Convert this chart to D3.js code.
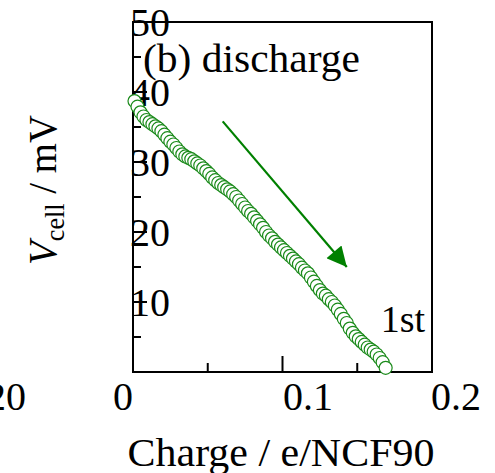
<!DOCTYPE html>
<html>
<head>
<meta charset="utf-8">
<script src="https://cdn.jsdelivr.net/npm/d3@7"></script>
<style>
  html, body { margin: 0; padding: 0; background: #fff; }
  svg { display: block; }
  text { font-family: "Liberation Serif", "DejaVu Serif", serif; fill: #000; }
</style>
</head>
<body>
<svg id="chart" width="495" height="473"></svg>
<script>
// ---- data ----
const charge = [
  0.001,0.003,0.005,0.007,0.009,0.011,0.013,0.015,0.017,0.019,
  0.021,0.023,0.025,0.027,0.029,0.031,0.033,0.035,0.037,0.039,
  0.041,0.043,0.045,0.047,0.049,0.051,0.053,0.055,0.057,0.059,
  0.061,0.063,0.065,0.067,0.069,0.071,0.073,0.075,0.077,0.079,
  0.081,0.083,0.085,0.087,0.089,0.091,0.093,0.095,0.097,0.099,
  0.101,0.103,0.105,0.107,0.109,0.111,0.113,0.115,0.117,0.119,
  0.121,0.123,0.125,0.127,0.129,0.131,0.133,0.135,0.137,0.139,
  0.141,0.143,0.145,0.147,0.149,0.151,0.153,0.155,0.157,0.159,
  0.161,0.163,0.165,0.167,0.169
];
const vcell = [
  38.7,37.9,37.1,36.5,36.0,35.7,35.4,35.1,34.8,34.4,
  33.9,33.4,32.9,32.5,32.0,31.5,31.1,30.8,30.6,30.4,
  30.1,29.8,29.5,29.1,28.7,28.3,27.8,27.4,27.0,26.7,
  26.4,26.1,25.8,25.4,25.0,24.5,24.0,23.5,23.0,22.6,
  22.1,21.6,21.1,20.6,20.0,19.5,19.1,18.6,18.2,17.8,
  17.4,17.0,16.6,16.2,15.8,15.4,14.9,14.5,14.1,13.5,
  12.9,12.3,11.7,11.2,10.9,10.4,10.0,9.5,8.9,8.3,
  7.6,7.0,6.2,5.6,5.1,4.7,4.3,3.9,3.5,3.2,
  2.9,2.5,2.0,1.4,0.6
];
const yMajorTicks = [10, 20, 30, 40, 50];
const yMinorTicks = [5, 15, 25, 35, 45];
const yTickLabels = ["10", "20", "30", "40", "50"];
const xMajorTicks = [0.1];
const xMinorTicks = [0.05, 0.15];
const xTickLabels = ["20", "0", "0.1", "0.2"];
const arrowFrom = [0.060, 35.8];
const arrowTo = [0.143, 15.0];

// ---- layout ----
const svg = d3.select("#chart");
const L = 133, R = 432, T = 22, B = 372;
const FS = 40;
const green = "#1a8a1a";

const x = d3.scaleLinear().domain([0, 0.2]).range([L, R]);
const y = d3.scaleLinear().domain([0, 50]).range([B, T]);

// frame
svg.append("rect")
  .attr("x", L).attr("y", T).attr("width", R - L).attr("height", B - T)
  .attr("fill", "none").attr("stroke", "#000").attr("stroke-width", 2);

// y ticks (inward)
svg.append("g").selectAll("line.ymaj").data(yMajorTicks).join("line")
  .attr("x1", L).attr("x2", L + 14)
  .attr("y1", d => y(d)).attr("y2", d => y(d))
  .attr("stroke", "#000").attr("stroke-width", 2);
svg.append("g").selectAll("line.ymin").data(yMinorTicks).join("line")
  .attr("x1", L).attr("x2", L + 8)
  .attr("y1", d => y(d)).attr("y2", d => y(d))
  .attr("stroke", "#000").attr("stroke-width", 2);
// x ticks (inward)
svg.append("g").selectAll("line.xmaj").data(xMajorTicks).join("line")
  .attr("x1", d => x(d)).attr("x2", d => x(d))
  .attr("y1", B).attr("y2", B - 16)
  .attr("stroke", "#000").attr("stroke-width", 2);
svg.append("g").selectAll("line.xmin").data(xMinorTicks).join("line")
  .attr("x1", d => x(d)).attr("x2", d => x(d))
  .attr("y1", B).attr("y2", B - 9)
  .attr("stroke", "#000").attr("stroke-width", 2);

// y tick labels (drawn over the axis, as in the reference)
svg.append("g").selectAll("text").data(yMajorTicks).join("text")
  .attr("x", L + 37).attr("y", d => y(d))
  .attr("dy", "0.35em")
  .attr("text-anchor", "end")
  .attr("font-size", FS)
  .text((d, i) => yTickLabels[i]);

// x tick labels (offset as in the reference)
const xLabelPos = [6, 123, 308, 456];
svg.append("g").selectAll("text").data(xTickLabels).join("text")
  .attr("x", (d, i) => xLabelPos[i]).attr("y", 410)
  .attr("text-anchor", "middle")
  .attr("font-size", FS)
  .text(d => d);

// axis titles
const xt = svg.append("text")
  .attr("x", 281).attr("y", 466)
  .attr("text-anchor", "middle")
  .attr("font-size", 41)
  .text("Charge / e/NCF90");
// fit to the reference width
(function fit(sel, target, cx, cy) {
  const w = sel.node().getBBox().width;
  const s = target / w;
  sel.attr("transform", `translate(${cx},0) scale(${s},1) translate(${-cx},0)`);
})(xt, 307, 281);

const yt = svg.append("text")
  .attr("text-anchor", "middle")
  .attr("font-size", 40);
yt.append("tspan").attr("font-style", "italic").text("V");
yt.append("tspan").attr("font-size", 27).attr("dy", 8).text("cell");
yt.append("tspan").attr("dy", -8).text(" / mV");
{
  const w = yt.node().getBBox().width;
  const s = 150 / w;
  yt.attr("transform", `translate(56,190) rotate(-90) scale(${s},1)`);
}

// annotations
const bt = svg.append("text").attr("x", 143).attr("y", 72).attr("font-size", 41).text("(b) discharge");
{
  const w = bt.node().getBBox().width;
  const s = 217 / w;
  bt.attr("transform", `translate(143,0) scale(${s},1) translate(-143,0)`);
}
svg.append("text").attr("x", 425).attr("y", 332).attr("text-anchor", "end").attr("font-size", 38).text("1st");

// arrow
const defs = svg.append("defs");
defs.append("marker").attr("id", "ah")
  .attr("viewBox", "0 0 10 10").attr("refX", 10).attr("refY", 5)
  .attr("markerWidth", 12).attr("markerHeight", 9).attr("markerUnits", "strokeWidth")
  .attr("orient", "auto")
  .append("path").attr("d", "M0,0 L10,5 L0,10 Z").attr("fill", "#008000");
svg.append("line")
  .attr("x1", x(arrowFrom[0])).attr("y1", y(arrowFrom[1]))
  .attr("x2", x(arrowTo[0])).attr("y2", y(arrowTo[1]))
  .attr("stroke", "#008000").attr("stroke-width", 2.2)
  .attr("marker-end", "url(#ah)");

// data points
const pts = charge.map((c, i) => ({ c, v: vcell[i] }));
svg.append("g").selectAll("circle").data(pts).join("circle")
  .attr("cx", d => x(d.c)).attr("cy", d => y(d.v))
  .attr("r", 6.5)
  .attr("fill", "#fff")
  .attr("stroke", green).attr("stroke-width", 1.2);
</script>
</body>
</html>
